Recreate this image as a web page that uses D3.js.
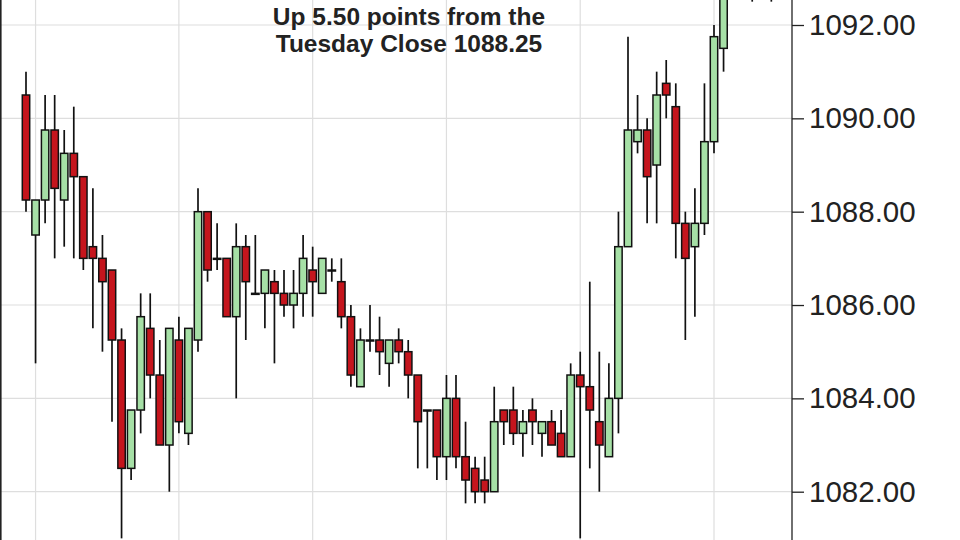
<!DOCTYPE html>
<html>
<head>
<meta charset="utf-8">
<script src="https://cdn.jsdelivr.net/npm/d3@7"></script>
<style>
  html, body { margin: 0; padding: 0; background: #fff; }
  svg { display: block; }
  .axis text { font-family: "Liberation Sans", Arial, sans-serif; font-size: 29.5px; fill: #222; }
  .axis path, .axis line { stroke: #222; stroke-width: 1.3; }
  .title { font-family: "Liberation Sans", Arial, sans-serif; font-weight: bold; font-size: 24.5px; fill: #222; }
</style>
</head>
<body>
<div id="chart"></div>
<script>
// 5-minute bars, index 0..78 (the last few run off the top of the chart)
const opens = [
  1090.5, 1087.5, 1088.25, 1089.75, 1088.25, 1089.25, 1088.75, 1087.25, 1087, 1086.75,
  1085.25, 1082.5, 1083.75, 1085.5, 1084.5, 1083, 1085.25, 1083.25, 1085.25, 1088,
  1087, 1087, 1085.75, 1087.25, 1086.25, 1086.25, 1086.5, 1086.25, 1086, 1086.25,
  1086.75, 1086.25, 1086.75, 1086.5, 1085.75, 1084.25, 1085.25, 1085.25, 1084.75, 1085.25,
  1085, 1084.5, 1083.75, 1083.75, 1082.75, 1084, 1082.75, 1082.5, 1082.25, 1082,
  1083.75, 1083.75, 1083.25, 1083.75, 1083.25, 1083.5, 1083.25, 1082.75, 1084.5, 1084.25,
  1083.5, 1082.75, 1084, 1087.25, 1089.5, 1089.75, 1089, 1090.75, 1090.25, 1087.75,
  1087.25, 1087.75, 1089.5, 1091.5, 1093.25, 1093.75, 1093.5, 1093.25, 1093.5
];
const highs = [
  1091, 1088.25, 1090.5, 1090.5, 1089.75, 1090.25, 1088.75, 1088.5, 1087.5, 1086.75,
  1085.5, 1083.75, 1086.25, 1086.25, 1085.25, 1085.5, 1085.75, 1085.5, 1088.5, 1088,
  1087.75, 1087, 1087.75, 1087.5, 1087.5, 1086.75, 1086.75, 1086.75, 1086.75, 1087.5,
  1087.25, 1087, 1087, 1087, 1086, 1085.5, 1086, 1085.75, 1085.25, 1085.5,
  1085.25, 1084.5, 1083.75, 1083.75, 1084.5, 1084.5, 1083.5, 1082.75, 1082.75, 1084.25,
  1083.75, 1084.25, 1083.75, 1084, 1083.5, 1083.75, 1083.75, 1084.75, 1085, 1086.5,
  1085, 1084.75, 1088, 1091.75, 1090.5, 1090, 1091, 1091.25, 1090.75, 1088,
  1088.5, 1090.75, 1092, 1093.5, 1094, 1094.25, 1094, 1093.75, 1094
];
const lows = [
  1088, 1084.75, 1087.75, 1087, 1087.25, 1087, 1086.75, 1085.5, 1085, 1083.5,
  1081, 1082.25, 1083.25, 1084, 1083, 1082, 1083.25, 1083, 1085, 1086.5,
  1086.75, 1085.75, 1084, 1085.25, 1086.25, 1085.5, 1084.75, 1085.75, 1085.5, 1085.75,
  1085.75, 1086.25, 1086.5, 1085.5, 1084.25, 1084.25, 1085, 1084.5, 1084.25, 1084.75,
  1084, 1082.5, 1082.5, 1082.25, 1082.25, 1082.5, 1081.75, 1081.75, 1081.75, 1082,
  1083, 1083, 1082.75, 1083, 1082.75, 1083, 1082.75, 1082.75, 1081, 1082.5,
  1082, 1082.75, 1083.25, 1087.25, 1089.25, 1087.75, 1087.75, 1090, 1087, 1085.25,
  1085.75, 1087.5, 1089.25, 1091, 1092.75, 1093, 1092.5, 1092.75, 1092.5
];
const closes = [
  1088.25, 1088.25, 1089.75, 1088.5, 1089.25, 1088.75, 1087, 1087, 1086.5, 1085.25,
  1082.5, 1083.75, 1085.75, 1084.5, 1083, 1085.5, 1083.5, 1085.5, 1088, 1086.75,
  1087, 1085.75, 1087.25, 1086.5, 1086.25, 1086.75, 1086.25, 1086, 1086.25, 1087,
  1086.5, 1087, 1086.75, 1085.75, 1084.5, 1085.25, 1085.25, 1085, 1085.25, 1085,
  1084.5, 1083.5, 1083.75, 1082.75, 1084, 1082.75, 1082.25, 1082, 1082, 1083.5,
  1083.5, 1083.25, 1083.5, 1083.5, 1083.5, 1083, 1082.75, 1084.5, 1084.25, 1083.75,
  1083, 1084, 1087.25, 1089.75, 1089.75, 1088.75, 1090.5, 1090.5, 1087.75, 1087,
  1087.75, 1089.5, 1091.75, 1093.25, 1093.75, 1093.5, 1093.25, 1093.5, 1093
];
// bars where the vertical time grid lines fall
const gridBars = [1, 16, 30, 44, 58, 72];
const priceTicks = [1082, 1084, 1086, 1088, 1090, 1092];
const titleLines = ['Up 5.50 points from the', 'Tuesday Close 1088.25'];

const width = 960;
const height = 540;
const axisX = 792;

const bars = opens.map((o, i) => ({ i, o, h: highs[i], l: lows[i], c: closes[i] }));

const x = d3.scaleLinear().domain([0, 72]).range([26, 714]);
const y = d3.scaleLinear().domain([1082, 1092]).range([491.7, 25]);

const svg = d3.select('#chart')
  .append('svg')
  .attr('width', width)
  .attr('height', height);

svg.append('defs').append('clipPath')
  .attr('id', 'plot')
  .append('rect')
  .attr('x', 0).attr('y', 0)
  .attr('width', axisX).attr('height', height);

const plot = svg.append('g').attr('clip-path', 'url(#plot)');

// grid
plot.selectAll('.hgrid')
  .data(priceTicks)
  .enter()
  .append('line')
  .attr('class', 'hgrid')
  .attr('x1', 0).attr('x2', axisX)
  .attr('y1', d => y(d)).attr('y2', d => y(d))
  .attr('stroke', '#dedede')
  .attr('stroke-width', 1.2);

plot.selectAll('.vgrid')
  .data(gridBars)
  .enter()
  .append('line')
  .attr('class', 'vgrid')
  .attr('x1', d => x(d)).attr('x2', d => x(d))
  .attr('y1', 0).attr('y2', height)
  .attr('stroke', '#dedede')
  .attr('stroke-width', 1.2);

// candles
const candle = plot.selectAll('.candle')
  .data(bars)
  .enter()
  .append('g')
  .attr('class', 'candle');

candle.append('line')
  .attr('x1', d => x(d.i)).attr('x2', d => x(d.i))
  .attr('y1', d => y(d.h)).attr('y2', d => y(d.l))
  .attr('stroke', '#111')
  .attr('stroke-width', 1.7);

const bodyW = 7.4;
candle.append('rect')
  .attr('x', d => x(d.i) - bodyW / 2)
  .attr('width', bodyW)
  .attr('y', d => y(Math.max(d.o, d.c)))
  .attr('height', d => Math.max(1, Math.abs(y(d.o) - y(d.c))))
  .attr('fill', d => (d.c >= d.o ? '#a6e0a6' : '#c5151d'))
  .attr('stroke', '#111')
  .attr('stroke-width', 1.5);

// left frame
svg.append('line')
  .attr('x1', 0.8).attr('x2', 0.8)
  .attr('y1', 0).attr('y2', height)
  .attr('stroke', '#222')
  .attr('stroke-width', 1.6);

// price axis
svg.append('g')
  .attr('class', 'axis')
  .attr('transform', `translate(${axisX},0)`)
  .call(d3.axisRight(y)
    .tickValues(priceTicks)
    .tickFormat(d3.format('.2f'))
    .tickSize(12)
    .tickSizeOuter(0)
    .tickPadding(5))
  .call(g => g.select('.domain').attr('d', `M0,0V${height}`));

// note
svg.append('text')
  .attr('class', 'title')
  .attr('text-anchor', 'middle')
  .selectAll('tspan')
  .data(titleLines)
  .enter()
  .append('tspan')
  .attr('x', 409)
  .attr('y', (d, i) => 25 + i * 27)
  .text(d => d);
</script>
</body>
</html>
